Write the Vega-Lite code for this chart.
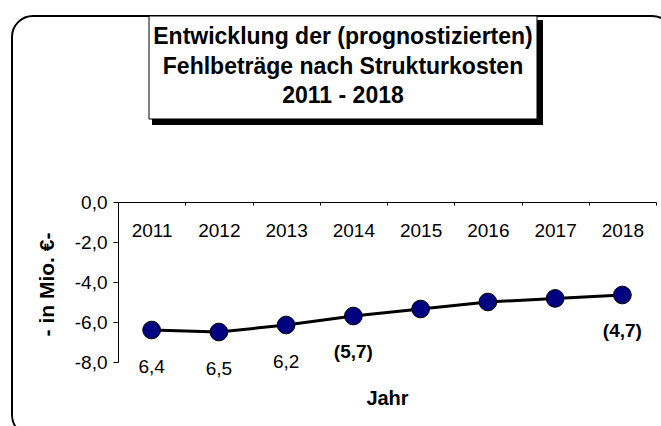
{
  "$schema": "https://vega.github.io/schema/vega-lite/v6.json",
  "autosize": {"type": "none"},
  "padding": {"left": 12, "top": 16, "right": -12, "bottom": -10},
  "width": 661,
  "height": 420,
  "background": "white",
  "config": {
    "view": {"stroke": "black", "strokeWidth": 2, "cornerRadius": 21, "fill": "white"},
    "font": "Liberation Sans"
  },
  "data": {
    "values": [
      {"Jahr": "2011", "Wert": -6.4, "Etikett": "6,4", "fett": false},
      {"Jahr": "2012", "Wert": -6.5, "Etikett": "6,5", "fett": false},
      {"Jahr": "2013", "Wert": -6.15, "Etikett": "6,2", "fett": false},
      {"Jahr": "2014", "Wert": -5.7, "Etikett": "(5,7)", "fett": true},
      {"Jahr": "2015", "Wert": -5.35, "Etikett": "", "fett": false},
      {"Jahr": "2016", "Wert": -5.0, "Etikett": "", "fett": false},
      {"Jahr": "2017", "Wert": -4.82, "Etikett": "", "fett": false},
      {"Jahr": "2018", "Wert": -4.65, "Etikett": "(4,7)", "fett": true}
    ]
  },
  "encoding": {
    "x": {
      "field": "Jahr",
      "type": "ordinal",
      "scale": {"type": "band", "paddingInner": 0, "paddingOuter": 0, "range": [106, 644]},
      "axis": {
        "orient": "top",
        "offset": -186,
        "tickBand": "extent",
        "tickSize": -3,
        "labelPadding": -25,
        "labelBaseline": "middle",
        "labelAngle": 0,
        "labelFontSize": 19,
        "labelColor": "black",
        "domainColor": "black",
        "tickColor": "black",
        "grid": false,
        "title": "Jahr",
        "titleFontSize": 20,
        "titleFontWeight": "bold",
        "titleColor": "black",
        "titleY": 202,
        "titleBaseline": "alphabetic"
      }
    },
    "y": {
      "field": "Wert",
      "type": "quantitative",
      "scale": {"domain": [-8, 0], "range": [346, 186], "nice": false, "zero": false},
      "axis": {
        "orient": "left",
        "offset": -106,
        "values": [0, -2, -4, -6, -8],
        "tickSize": 5,
        "labelPadding": 6,
        "labelFontSize": 19,
        "labelColor": "black",
        "labelExpr": "replace(replace(format(datum.value, '.1f'), '.', ','), '−', '-')",
        "domainColor": "black",
        "tickColor": "black",
        "grid": false,
        "title": "- in Mio. €-",
        "titleFontSize": 21,
        "titleFontWeight": "bold",
        "titleColor": "black",
        "titleAngle": -90,
        "titleX": -71,
        "titleY": 268,
        "titleBaseline": "middle",
        "titleAlign": "center"
      }
    }
  },
  "layer": [
    {
      "mark": {"type": "line", "color": "black", "strokeWidth": 3}
    },
    {
      "mark": {"type": "circle", "size": 314, "color": "#000080", "stroke": "black", "strokeWidth": 1, "opacity": 1}
    },
    {
      "transform": [{"filter": "!datum.fett"}],
      "mark": {"type": "text", "fontSize": 19, "dy": 37, "align": "center", "baseline": "middle", "color": "black"},
      "encoding": {"text": {"field": "Etikett"}}
    },
    {
      "transform": [{"filter": "datum.fett"}],
      "mark": {"type": "text", "fontSize": 19, "fontWeight": "bold", "dy": 36, "align": "center", "baseline": "middle", "color": "black"},
      "encoding": {"text": {"field": "Etikett"}}
    },
    {
      "data": {"values": [{"Teil": "Titelrahmen"}]},
      "mark": {"type": "rect", "color": "black", "opacity": 1},
      "encoding": {"x": {"value": 140}, "x2": {"value": 531}, "y": {"value": 4}, "y2": {"value": 109}}
    },
    {
      "data": {"values": [{"Teil": "Titelrahmen"}]},
      "mark": {"type": "rect", "fill": "white", "stroke": "black", "strokeWidth": 1, "opacity": 1},
      "encoding": {"x": {"value": 137}, "x2": {"value": 525}, "y": {"value": 0}, "y2": {"value": 103}}
    },
    {
      "data": {"values": [{"Teil": "Titel"}]},
      "mark": {"type": "text", "fontSize": 23, "fontWeight": "bold", "align": "center", "baseline": "alphabetic", "lineHeight": 29.5, "color": "black"},
      "encoding": {
        "x": {"value": 331},
        "y": {"value": 28},
        "text": {"value": ["Entwicklung der (prognostizierten)", "Fehlbeträge nach Strukturkosten", "2011 - 2018"]}
      }
    }
  ]
}
